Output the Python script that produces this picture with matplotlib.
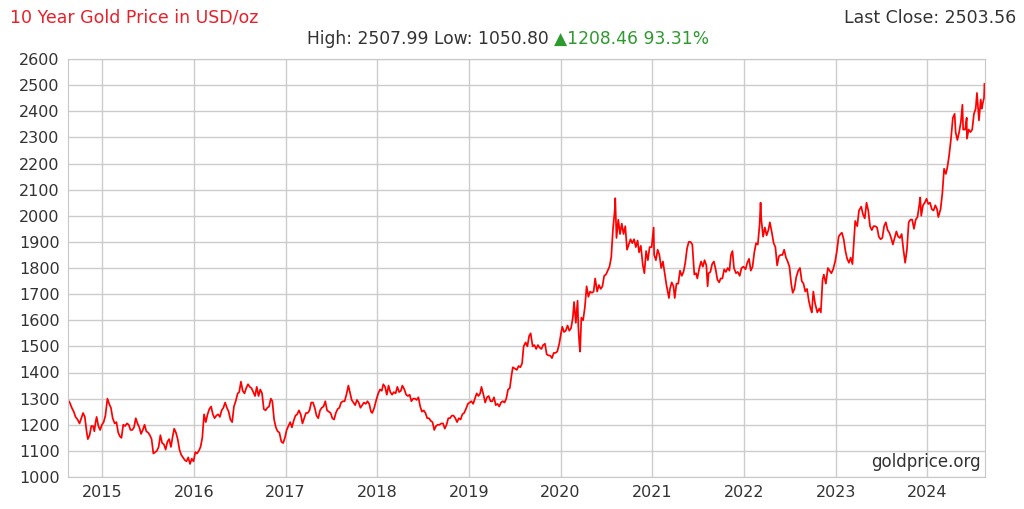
import matplotlib
matplotlib.use("Agg")
import matplotlib.pyplot as plt
import matplotlib.dates as mdates
import pandas as pd

# weekly-ish closes, one list per year
d14 = ["08-18","08-25","09-02","09-10","09-17","09-25","10-03","10-10","10-17","10-24","10-31",
       "11-05","11-12","11-19","11-26","12-01","12-05","12-10","12-17","12-24","12-31"]
p14 = [1295,1285,1265,1250,1230,1220,1205,1225,1245,1230,1175,
       1145,1160,1195,1195,1175,1205,1230,1195,1180,1200]

d15 = ["01-07","01-14","01-22","01-29","02-05","02-12","02-20","02-27","03-06","03-13","03-19","03-26",
       "04-02","04-10","04-17","04-24","05-01","05-08","05-15","05-22","05-29","06-05","06-12","06-19","06-26",
       "07-03","07-10","07-17","07-24","07-31","08-07","08-14","08-21","08-28","09-04","09-11","09-18","09-25",
       "10-02","10-09","10-15","10-22","10-29","11-05","11-12","11-19","11-26","12-03","12-10","12-17","12-24","12-31"]
p15 = [1210,1235,1300,1280,1265,1225,1205,1210,1170,1155,1150,1200,
       1195,1205,1200,1180,1180,1190,1225,1205,1190,1165,1180,1200,1175,
       1170,1160,1145,1090,1095,1100,1115,1160,1130,1125,1105,1135,1145,
       1115,1155,1185,1170,1145,1105,1085,1075,1065,1060,1075,1050,1070,1060]

d16 = ["01-07","01-14","01-21","01-28","02-04","02-11","02-18","02-25","03-03","03-10","03-17","03-24","03-31",
       "04-07","04-14","04-21","04-28","05-05","05-12","05-19","05-26","06-02","06-09","06-16","06-24","06-30",
       "07-07","07-14","07-21","07-28","08-04","08-11","08-18","08-25","09-01","09-08","09-15","09-22","09-29",
       "10-06","10-13","10-20","10-27","11-03","11-09","11-16","11-23","11-30","12-07","12-15","12-22","12-29"]
p16 = [1095,1090,1100,1115,1150,1240,1210,1240,1260,1270,1240,1225,1235,
       1240,1230,1255,1265,1285,1265,1250,1220,1210,1270,1290,1320,1325,
       1365,1330,1320,1340,1355,1345,1340,1325,1310,1345,1310,1335,1320,
       1260,1255,1265,1270,1300,1290,1220,1190,1175,1170,1135,1130,1150]

d17 = ["01-05","01-12","01-19","01-26","02-02","02-09","02-16","02-23","03-02","03-09","03-16","03-23","03-30",
       "04-06","04-13","04-20","04-27","05-04","05-11","05-18","05-25","06-01","06-08","06-15","06-22","06-29",
       "07-06","07-13","07-20","07-27","08-03","08-10","08-17","08-24","08-31","09-08","09-14","09-21","09-28",
       "10-05","10-12","10-19","10-26","11-02","11-09","11-16","11-23","11-30","12-07","12-12","12-20","12-28"]
p17 = [1180,1195,1210,1190,1215,1235,1240,1255,1240,1205,1225,1245,1245,
       1255,1285,1285,1265,1235,1225,1255,1265,1270,1290,1255,1250,1245,
       1225,1220,1245,1260,1265,1285,1290,1290,1315,1350,1325,1295,1285,
       1275,1295,1285,1265,1275,1285,1280,1290,1280,1250,1245,1265,1295]

d18 = ["01-05","01-12","01-19","01-25","02-01","02-08","02-15","02-22","03-01","03-08","03-15","03-22","03-29",
       "04-05","04-11","04-19","04-26","05-03","05-10","05-17","05-24","05-31","06-07","06-14","06-21","06-28",
       "07-05","07-12","07-19","07-26","08-02","08-09","08-16","08-23","08-30","09-06","09-13","09-20","09-27",
       "10-04","10-11","10-18","10-25","11-01","11-08","11-15","11-22","11-29","12-06","12-13","12-20","12-28"]
p18 = [1320,1335,1330,1355,1345,1315,1350,1325,1315,1325,1320,1345,1325,
       1330,1350,1335,1315,1310,1315,1290,1300,1300,1295,1305,1270,1250,
       1255,1245,1225,1225,1215,1210,1180,1195,1200,1200,1205,1205,1185,
       1200,1225,1225,1235,1235,1225,1210,1225,1220,1240,1245,1260,1280]

d19 = ["01-04","01-11","01-18","01-25","02-01","02-08","02-15","02-20","02-28","03-07","03-14","03-21","03-28",
       "04-04","04-11","04-18","04-25","05-02","05-09","05-16","05-23","05-30","06-06","06-13","06-20","06-25",
       "07-03","07-11","07-18","07-25","08-01","08-07","08-15","08-22","08-29","09-04","09-12","09-19","09-26",
       "10-03","10-10","10-17","10-24","10-31","11-07","11-14","11-21","11-28","12-05","12-12","12-19","12-27"]
p19 = [1285,1290,1280,1300,1320,1310,1320,1345,1315,1285,1305,1310,1290,
       1290,1305,1275,1280,1270,1285,1290,1285,1300,1335,1340,1390,1420,
       1415,1410,1425,1420,1435,1500,1515,1500,1540,1550,1500,1505,1490,
       1505,1495,1490,1505,1510,1470,1465,1465,1455,1475,1475,1480,1510]

d20 = ["01-03","01-08","01-15","01-22","01-29","02-05","02-12","02-19","02-24","03-02","03-09","03-12","03-16",
       "03-19","03-24","03-31","04-07","04-14","04-21","04-28","05-05","05-12","05-18","05-26","06-02","06-09",
       "06-16","06-23","06-30","07-07","07-14","07-21","07-28","08-04","08-06","08-11","08-18","08-25","09-01",
       "09-08","09-15","09-22","09-29","10-06","10-13","10-20","10-27","11-03","11-09","11-16","11-24","11-30",
       "12-07","12-14","12-21","12-29"]
p20 = [1550,1575,1555,1560,1580,1560,1570,1610,1670,1590,1675,1575,1510,
       1480,1610,1600,1650,1730,1690,1710,1705,1710,1760,1710,1735,1720,
       1730,1770,1775,1790,1805,1840,1950,2020,2067,1915,1985,1930,1970,
       1930,1960,1870,1890,1910,1895,1910,1880,1905,1860,1885,1810,1780,
       1865,1830,1880,1880]

d21 = ["01-06","01-08","01-15","01-22","01-29","02-05","02-12","02-19","02-26","03-05","03-08","03-12","03-19",
       "03-26","03-31","04-07","04-14","04-21","04-28","05-05","05-12","05-19","05-26","06-02","06-09","06-17",
       "06-24","06-29","07-07","07-14","07-21","07-28","08-04","08-09","08-13","08-20","08-27","09-03","09-10",
       "09-17","09-24","09-30","10-07","10-14","10-21","10-28","11-04","11-10","11-16","11-22","11-30","12-07",
       "12-15","12-22","12-30"]
p21 = [1955,1850,1830,1870,1850,1800,1825,1780,1735,1700,1685,1720,1745,
       1730,1685,1740,1740,1790,1770,1785,1820,1875,1900,1900,1890,1775,
       1780,1760,1800,1825,1805,1830,1810,1730,1780,1785,1815,1825,1795,
       1755,1745,1760,1760,1795,1785,1800,1790,1850,1865,1800,1780,1785,
       1770,1800,1805]

d22 = ["01-07","01-14","01-21","01-28","02-04","02-11","02-18","02-25","03-04","03-08","03-11","03-18","03-25",
       "04-01","04-08","04-14","04-22","04-29","05-06","05-13","05-20","05-27","06-03","06-10","06-17","06-24",
       "07-01","07-08","07-14","07-21","07-28","08-05","08-12","08-19","08-26","09-02","09-09","09-16","09-23",
       "09-28","10-04","10-11","10-20","10-28","11-03","11-10","11-15","11-23","12-01","12-08","12-15","12-22",
       "12-30"]
p22 = [1795,1820,1835,1790,1805,1860,1895,1890,1965,2050,1985,1920,1955,
       1925,1945,1975,1935,1895,1880,1810,1845,1850,1850,1870,1840,1825,
       1805,1740,1705,1720,1765,1790,1800,1750,1740,1710,1720,1675,1645,
       1630,1710,1665,1630,1645,1630,1755,1775,1740,1800,1790,1780,1795,
       1825]

d23 = ["01-06","01-13","01-20","01-26","02-02","02-09","02-16","02-23","03-02","03-09","03-16","03-20","03-28",
       "04-04","04-13","04-20","04-27","05-04","05-11","05-18","05-25","06-01","06-08","06-15","06-22","06-29",
       "07-06","07-13","07-20","07-27","08-03","08-10","08-17","08-24","08-31","09-07","09-14","09-21","09-28",
       "10-05","10-12","10-19","10-26","11-02","11-09","11-16","11-23","11-30","12-04","12-08","12-15","12-22",
       "12-29"]
p23 = [1865,1920,1930,1935,1910,1865,1835,1820,1840,1815,1920,1980,1960,
       2020,2035,2005,1990,2050,2020,1960,1945,1960,1960,1955,1920,1910,
       1915,1960,1975,1945,1935,1915,1890,1915,1940,1920,1915,1930,1870,
       1820,1870,1975,1985,1985,1950,1985,1995,2040,2070,2000,2040,2050,
       2065]

d24 = ["01-05","01-12","01-19","01-26","02-02","02-09","02-14","02-23","03-01","03-08","03-15","03-21","03-28",
       "04-04","04-12","04-19","04-23","04-30","05-07","05-14","05-20","05-23","05-31","06-06","06-07","06-14",
       "06-21","06-28","07-05","07-12","07-17","07-25","08-01","08-05","08-09","08-14","08-16"]
p24 = [2045,2050,2025,2020,2040,2025,1995,2025,2085,2180,2160,2185,2230,
       2290,2375,2390,2320,2290,2320,2360,2425,2330,2330,2375,2295,2330,
       2320,2330,2390,2410,2470,2365,2445,2410,2430,2450,2505]

years = [2014, 2015, 2016, 2017, 2018, 2019, 2020, 2021, 2022, 2023, 2024]
day_lists = [d14, d15, d16, d17, d18, d19, d20, d21, d22, d23, d24]
price_lists = [p14, p15, p16, p17, p18, p19, p20, p21, p22, p23, p24]

title = "10 Year Gold Price in USD/oz"
last_close = "Last Close: 2503.56"
high_low = "High: 2507.99 Low: 1050.80"
change = "\u25b21208.46 93.31%"
yticks = list(range(1000, 2700, 100))

dates = []
prices = []
for y, ds, ps in zip(years, day_lists, price_lists):
    dates += [pd.Timestamp(f"{y}-{d}") for d in ds]
    prices += ps

fig = plt.figure(figsize=(10.24, 5.09), dpi=100)
ax = fig.add_axes([68 / 1024, 32 / 509, 917 / 1024, 418 / 509])

ax.plot(dates, prices, color="#ff0000", linewidth=1.25)

ax.set_xlim(pd.Timestamp("2014-08-18"), pd.Timestamp("2024-08-18"))
ax.set_ylim(1000, 2600)
ax.set_yticks(yticks)
ax.xaxis.set_major_locator(mdates.YearLocator())
ax.xaxis.set_major_formatter(mdates.DateFormatter("%Y"))

ax.grid(True, color="#cccccc", linewidth=1)
ax.set_axisbelow(True)
for s in ax.spines.values():
    s.set_color("#c8c8c8")
ax.tick_params(length=0, labelsize=11.5, colors="#333333", pad=6)

fig.text(10 / 1024, 1 - 18 / 509, title, color="#e8202a", fontsize=12.5, va="center", ha="left")
fig.text(1016 / 1024, 1 - 18 / 509, last_close, color="#333333", fontsize=12.5, va="center", ha="right")
fig.text(549 / 1024, 1 - 39 / 509, high_low, color="#333333", fontsize=12.3, va="center", ha="right")
fig.text(554 / 1024, 1 - 39 / 509, change, color="#2e9a2e", fontsize=12.3, va="center", ha="left")
ax.text(0.995, 0.015, "goldprice.org", transform=ax.transAxes, ha="right", va="bottom",
        fontsize=12, color="#333333")

fig.savefig("out.png", dpi=100)
